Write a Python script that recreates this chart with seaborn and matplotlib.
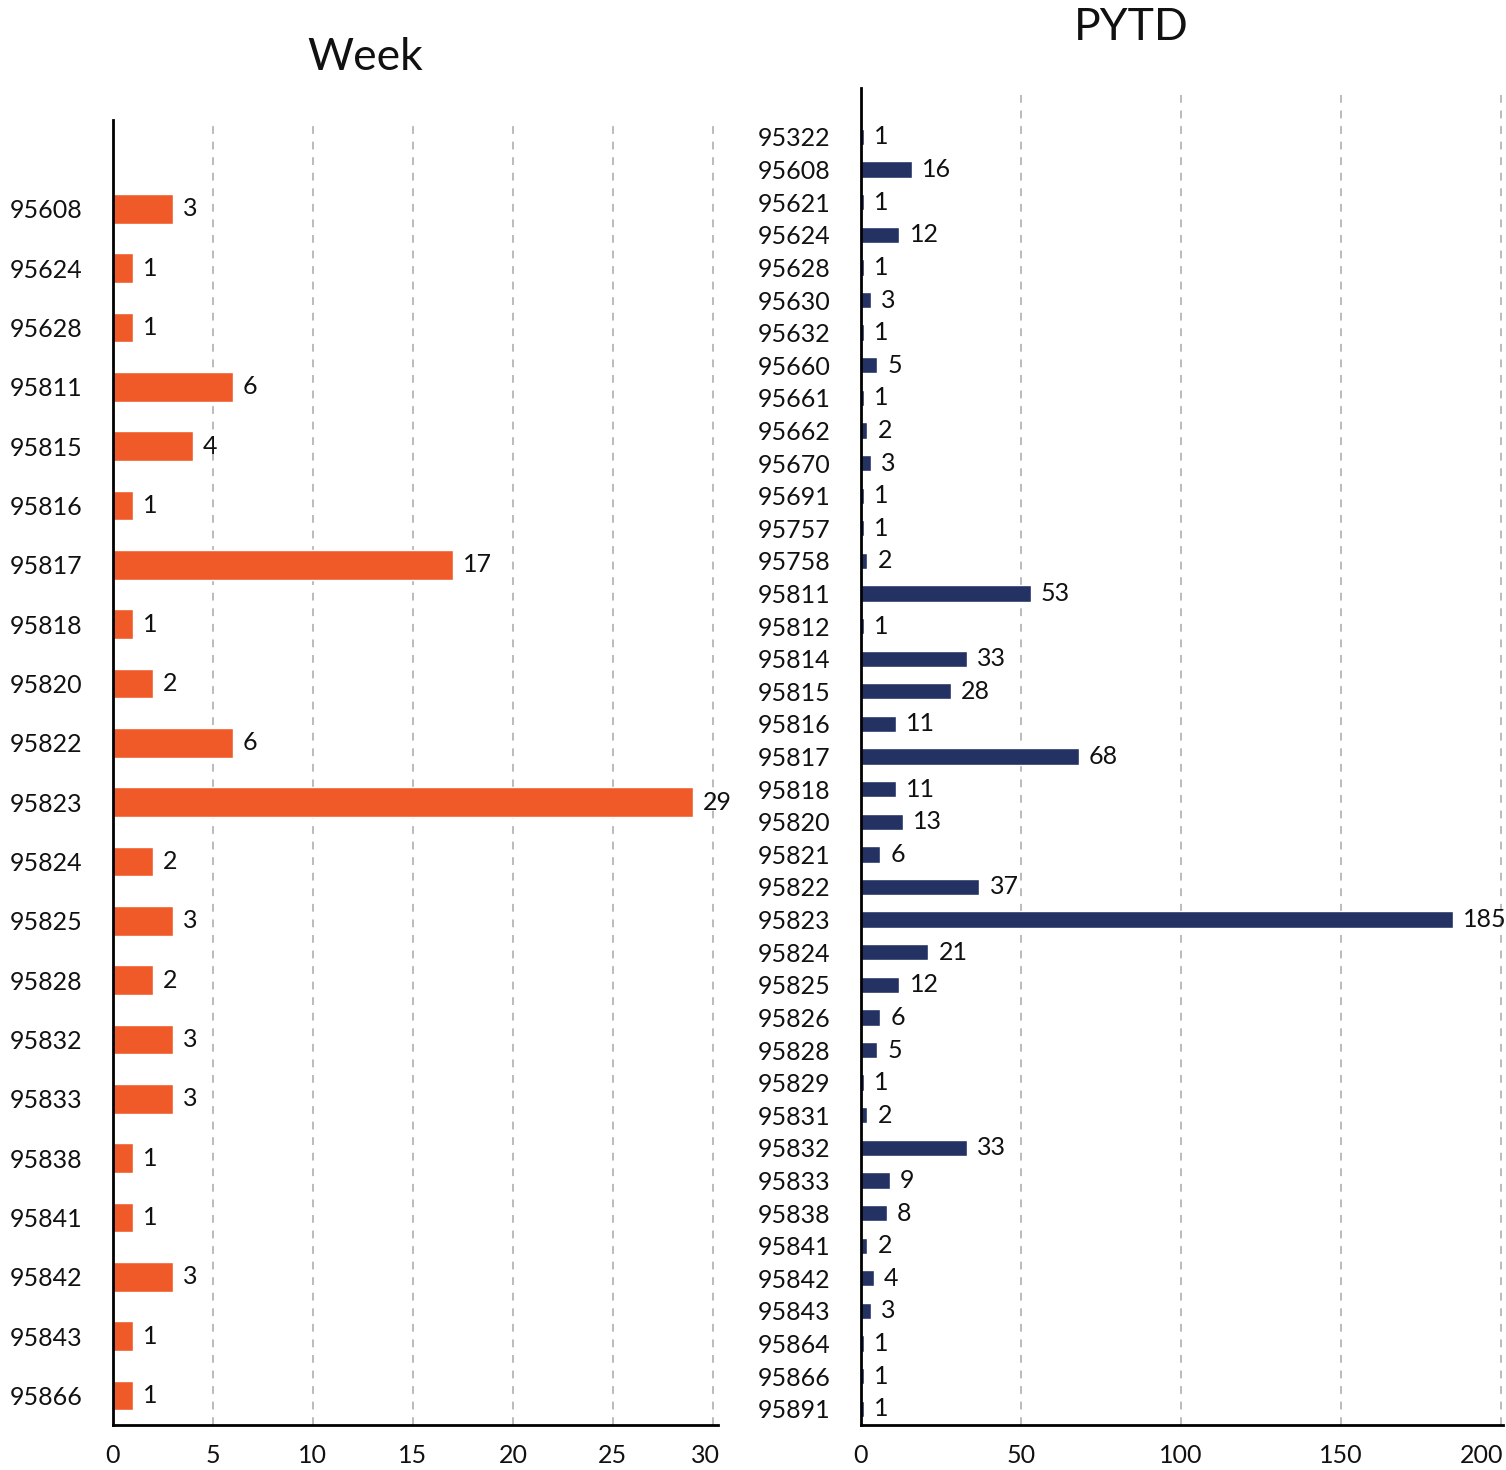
import matplotlib.pyplot as plt
import matplotlib.transforms as mtransforms
import numpy as np
import pandas as pd
import seaborn as sns

# Week counts by zip
week_zips = ['95608', '95624', '95628', '95811', '95815', '95816', '95817',
             '95818', '95820', '95822', '95823', '95824', '95825', '95828',
             '95832', '95833', '95838', '95841', '95842', '95843', '95866']
week_counts = [3, 1, 1, 6, 4, 1, 17, 1, 2, 6, 29, 2, 3, 2, 3, 3, 1, 1, 3, 1, 1]

# PYTD counts by zip
pytd_zips = ['95322', '95608', '95621', '95624', '95628', '95630', '95632',
             '95660', '95661', '95662', '95670', '95691', '95757', '95758',
             '95811', '95812', '95814', '95815', '95816', '95817', '95818',
             '95820', '95821', '95822', '95823', '95824', '95825', '95826',
             '95828', '95829', '95831', '95832', '95833', '95838', '95841',
             '95842', '95843', '95864', '95866', '95891']
pytd_counts = [1, 16, 1, 12, 1, 3, 1, 5, 1, 2, 3, 1, 1, 2, 53, 1, 33, 28, 11,
               68, 11, 13, 6, 37, 185, 21, 12, 6, 5, 1, 2, 33, 9, 8, 2, 4, 3,
               1, 1, 1]

sns.set_theme(style='white')
plt.rcParams['font.family'] = ['Lato', 'DejaVu Sans']

fig = plt.figure(figsize=(15.06, 14.70), dpi=100)
ax1 = fig.add_axes([0.0750, 0.0306, 0.4017, 0.8878])
ax2 = fig.add_axes([0.5717, 0.0306, 0.4263, 0.9095])

week_df = pd.DataFrame({'zip': week_zips, 'count': week_counts})
pytd_df = pd.DataFrame({'zip': pytd_zips, 'count': pytd_counts})


def draw(ax, df, color, xmax, ticks, gap, last_shift):
    sns.barplot(data=df, x='count', y='zip', orient='h', color=color,
                saturation=1, width=0.5, ax=ax)
    n = len(df)
    ax.set_ylim(n - 0.5, -1.5)
    ax.set_xlim(0, xmax)
    ax.set_xticks(ticks)
    ax.set_xlabel('')
    ax.set_ylabel('')
    for t in ticks[1:]:
        ax.axvline(t, color='#bbbbbb', linestyle=(0, (4, 4)), linewidth=1.4,
                   zorder=0)
    for i, v in enumerate(df['count']):
        ax.text(v + gap, i, str(v), va='center', ha='left', fontsize=18,
                color='#111111')
    for side in ['top', 'right']:
        ax.spines[side].set_visible(False)
    for side in ['left', 'bottom']:
        ax.spines[side].set_color('black')
        ax.spines[side].set_linewidth(2)
    ax.tick_params(axis='y', length=0, pad=22, labelsize=18, labelcolor='#111111')
    ax.tick_params(axis='x', length=0, pad=14, labelsize=18, labelcolor='#111111')
    # last x label is pulled inside the axes, as in the reference
    last = ax.get_xticklabels()[-1]
    last.set_ha('right')
    last.set_transform(last.get_transform() + mtransforms.ScaledTranslation(
        last_shift / 100, 0, fig.dpi_scale_trans))


draw(ax1, week_df, '#f05a28', 30.25, [0, 5, 10, 15, 20, 25, 30], 0.5, 7)
draw(ax2, pytd_df, '#233163', 200.6, [0, 50, 100, 150, 200], 3.2, 2)

fig.text(365 / 1506, 1 - 58 / 1470, 'Week', ha='center', va='center',
         fontsize=32, color='#111111')
fig.text(1131 / 1506, 1 - 27 / 1470, 'PYTD', ha='center', va='center',
         fontsize=32, color='#111111')

fig.savefig('out.png', dpi=100)
